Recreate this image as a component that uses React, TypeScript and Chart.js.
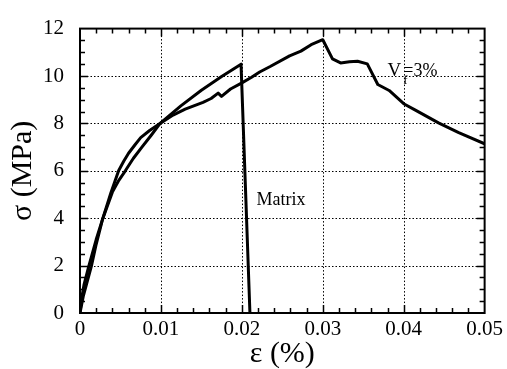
import React, { useEffect, useRef } from "react";
import { Chart, registerables } from "chart.js";
Chart.register(...registerables);

// V_f = 3% fibre-reinforced specimen
const strainFiber = [0, 0.0002, 0.0005, 0.00108, 0.002, 0.0028, 0.0038, 0.00477, 0.0054, 0.006, 0.0068, 0.0075, 0.0086, 0.0097, 0.0115, 0.013, 0.0152, 0.0162, 0.01707, 0.01749, 0.0186, 0.01995, 0.0212, 0.0222, 0.0235, 0.0259, 0.0273, 0.02856, 0.03, 0.0312, 0.0322, 0.0333, 0.0343, 0.0355, 0.0368, 0.0382, 0.04, 0.0415, 0.0443, 0.0468, 0.05];
const stressFiber = [0, 0.6, 1.2, 1.97, 3.1, 3.97, 5.05, 6.0, 6.4, 6.74, 7.1, 7.4, 7.7, 7.95, 8.35, 8.6, 8.89, 9.05, 9.28, 9.14, 9.45, 9.7, 9.95, 10.17, 10.4, 10.85, 11.05, 11.32, 11.53, 10.72, 10.55, 10.6, 10.62, 10.51, 9.64, 9.39, 8.83, 8.55, 8.02, 7.61, 7.14];

// Plain matrix specimen
const strainMatrix = [0, 0.0004, 0.0014, 0.002, 0.0028, 0.004, 0.0048, 0.0056, 0.0066, 0.00765, 0.0088, 0.0099, 0.0125, 0.015, 0.0175, 0.0199, 0.021];
const stressMatrix = [0, 0.7, 1.97, 2.9, 3.97, 5.1, 5.6, 6.0, 6.53, 7.0, 7.5, 8.0, 8.75, 9.4, 9.98, 10.5, 0];

const xTickValues = [0, 0.01, 0.02, 0.03, 0.04, 0.05];
const xTickLabels = ["0", "0.01", "0.02", "0.03", "0.04", "0.05"];
const yTickValues = [0, 2, 4, 6, 8, 10, 12];
const yTickLabels = ["0", "2", "4", "6", "8", "10", "12"];
const xMinorStep = 0.002;
const yMinorStep = 0.5;

const matrixLabel = "Matrix";
const matrixLabelAt = { x: 0.0218, y: 4.75 };
const fiberLabelMain = "V";
const fiberLabelSub = "f";
const fiberLabelRest = "=3%";
const fiberLabelAt = { x: 0.038, y: 10.2 };

const SERIF = "'Liberation Serif', 'Times New Roman', serif";

const framePlugin = {
  id: "frame",
  beforeDatasetsDraw(chart: any) {
    const { ctx, chartArea: a, scales } = chart;
    const x = scales.x, y = scales.y;
    ctx.save();
    ctx.strokeStyle = "#000";
    ctx.lineWidth = 1;
    ctx.setLineDash([1.5, 2]);
    xTickValues.forEach((v, i) => {
      if (i === 0 || i === xTickValues.length - 1) return;
      const px = Math.round(x.getPixelForValue(v)) + 0.5;
      ctx.beginPath();
      ctx.moveTo(px, a.top);
      ctx.lineTo(px, a.bottom);
      ctx.stroke();
    });
    yTickValues.forEach((v, i) => {
      if (i === 0 || i === yTickValues.length - 1) return;
      const py = Math.round(y.getPixelForValue(v)) + 0.5;
      ctx.beginPath();
      ctx.moveTo(a.left, py);
      ctx.lineTo(a.right, py);
      ctx.stroke();
    });
    ctx.restore();
  },
  afterDatasetsDraw(chart: any) {
    const { ctx, chartArea: a, scales } = chart;
    const x = scales.x, y = scales.y;
    ctx.save();
    ctx.strokeStyle = "#000";
    ctx.setLineDash([]);
    ctx.lineWidth = 2;
    ctx.strokeRect(a.left, a.top, a.right - a.left, a.bottom - a.top);
    ctx.lineWidth = 1.5;
    const xMax = xTickValues[xTickValues.length - 1];
    const nx = Math.round(xMax / xMinorStep);
    for (let i = 1; i < nx; i++) {
      const px = Math.round(x.getPixelForValue(i * xMinorStep)) + 0.5;
      const len = i % 5 === 0 ? 8 : 5;
      ctx.beginPath();
      ctx.moveTo(px, a.bottom);
      ctx.lineTo(px, a.bottom - len);
      ctx.moveTo(px, a.top);
      ctx.lineTo(px, a.top + len);
      ctx.stroke();
    }
    const yMax = yTickValues[yTickValues.length - 1];
    const ny = Math.round(yMax / yMinorStep);
    for (let i = 1; i < ny; i++) {
      const py = Math.round(y.getPixelForValue(i * yMinorStep)) + 0.5;
      const len = i % 4 === 0 ? 8 : 5;
      ctx.beginPath();
      ctx.moveTo(a.left, py);
      ctx.lineTo(a.left + len, py);
      ctx.moveTo(a.right, py);
      ctx.lineTo(a.right - len, py);
      ctx.stroke();
    }
    ctx.restore();
  },
  afterDraw(chart: any) {
    const { ctx, scales } = chart;
    const x = scales.x, y = scales.y;
    ctx.save();
    ctx.fillStyle = "#000";
    ctx.textBaseline = "middle";
    ctx.textAlign = "left";
    ctx.font = `18px ${SERIF}`;
    ctx.fillText(matrixLabel, x.getPixelForValue(matrixLabelAt.x), y.getPixelForValue(matrixLabelAt.y));
    const fx = x.getPixelForValue(fiberLabelAt.x);
    const fy = y.getPixelForValue(fiberLabelAt.y);
    ctx.font = `19px ${SERIF}`;
    ctx.fillText(fiberLabelMain, fx, fy);
    const vw = ctx.measureText(fiberLabelMain).width;
    ctx.font = `18px ${SERIF}`;
    ctx.fillText(fiberLabelRest, fx + vw + 2, fy);
    ctx.font = `13px ${SERIF}`;
    ctx.fillText(fiberLabelSub, fx + vw + 2, fy + 9);
    ctx.restore();
  },
};

export default function App() {
  const ref = useRef<HTMLCanvasElement | null>(null);
  useEffect(() => {
    if (!ref.current) return;
    const chart = new Chart(ref.current, {
      type: "line",
      data: {
        datasets: [
          {
            label: "Vf=3%",
            data: strainFiber.map((v, i) => ({ x: v, y: stressFiber[i] })),
            borderColor: "#000",
            borderWidth: 3,
            pointRadius: 0,
            tension: 0,
            fill: false,
            borderJoinStyle: "round",
          },
          {
            label: "Matrix",
            data: strainMatrix.map((v, i) => ({ x: v, y: stressMatrix[i] })),
            borderColor: "#000",
            borderWidth: 3,
            pointRadius: 0,
            tension: 0,
            fill: false,
            borderJoinStyle: "round",
          },
        ],
      },
      options: {
        animation: false,
        responsive: false,
        layout: { padding: { left: 0, right: 21, top: 17, bottom: 0 } },
        plugins: { legend: { display: false }, tooltip: { enabled: false } },
        scales: {
          x: {
            type: "linear",
            min: 0,
            max: 0.05,
            grid: { display: false, drawTicks: false },
            border: { display: false },
            afterBuildTicks: (s: any) => {
              s.ticks = xTickValues.map((v) => ({ value: v }));
            },
            afterFit: (s: any) => {
              s.height = 56;
            },
            ticks: {
              autoSkip: false,
              maxRotation: 0,
              padding: 4,
              color: "#000",
              font: { family: SERIF, size: 21 },
              callback: (_v: any, i: number) => xTickLabels[i],
            },
            title: {
              display: true,
              text: "ε (%)",
              color: "#000",
              font: { family: SERIF, size: 30, lineHeight: 1 },
              padding: { top: 0, bottom: 0 },
            },
          },
          y: {
            type: "linear",
            min: 0,
            max: 12,
            grid: { display: false, drawTicks: false },
            border: { display: false },
            afterBuildTicks: (s: any) => {
              s.ticks = yTickValues.map((v) => ({ value: v }));
            },
            afterFit: (s: any) => {
              s.width = 80;
            },
            ticks: {
              autoSkip: false,
              padding: 16,
              color: "#000",
              font: { family: SERIF, size: 21 },
              callback: (_v: any, i: number) => yTickLabels[i],
            },
            title: {
              display: true,
              text: "σ (MPa)",
              color: "#000",
              font: { family: SERIF, size: 30, lineHeight: 1 },
              padding: { top: 8, bottom: 0 },
            },
          },
        },
      },
      plugins: [framePlugin],
    } as any);
    return () => chart.destroy();
  }, []);
  return (
    <div style={{ position: "absolute", left: 0, top: 0, width: 507, height: 369, background: "#fff" }}>
      <canvas ref={ref} width={507} height={369} style={{ display: "block" }} />
    </div>
  );
}
